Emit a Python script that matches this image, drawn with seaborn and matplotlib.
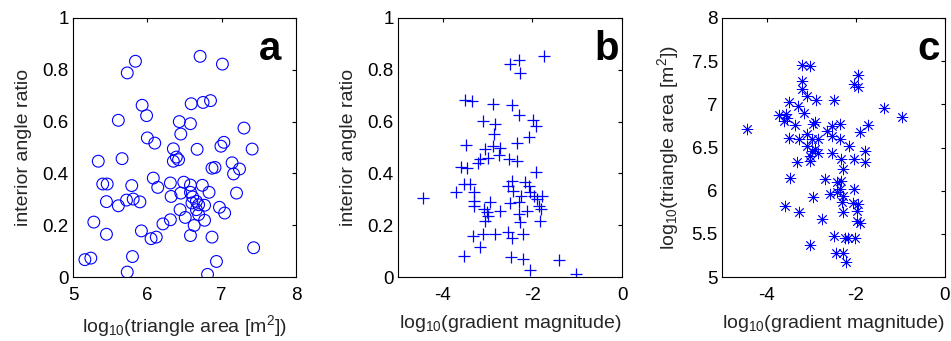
import matplotlib
matplotlib.use("Agg")
import matplotlib.pyplot as plt
import seaborn as sns
import pandas as pd

# ---------------- data ----------------
# panel a: triangle area (log10) vs interior angle ratio
a_area = [6.71, 7.01, 5.84, 5.73, 5.93, 5.99, 5.61, 6.59, 6.75, 6.85, 6.43, 6.58, 6.45, 7.30,
          6.00, 6.10, 6.35, 6.67, 7.03, 6.99, 7.41, 5.66, 5.34, 6.39, 6.35, 6.42, 6.08, 6.87,
          6.91, 7.14, 7.16, 7.24, 5.40, 5.46, 5.79, 6.14, 6.31, 6.49, 6.58, 6.74, 6.32, 6.45,
          6.58, 6.61, 6.83, 7.20, 5.45, 5.61, 5.72, 5.81, 5.90, 6.60, 6.66, 6.69, 6.77, 6.44,
          6.66, 6.97, 7.04, 6.69, 6.51, 5.28, 6.21, 6.31, 6.77, 6.63, 5.45, 5.92, 6.05, 6.12,
          6.58, 6.87, 5.16, 5.24, 5.80, 7.43, 6.93, 5.73, 6.81]
a_ratio = [0.852, 0.822, 0.833, 0.788, 0.663, 0.623, 0.605, 0.669, 0.674, 0.681, 0.600, 0.592,
           0.552, 0.575, 0.537, 0.517, 0.495, 0.493, 0.520, 0.505, 0.494, 0.457, 0.447, 0.463,
           0.447, 0.453, 0.382, 0.420, 0.423, 0.441, 0.398, 0.417, 0.359, 0.359, 0.353, 0.346,
           0.363, 0.366, 0.355, 0.354, 0.311, 0.324, 0.327, 0.309, 0.327, 0.324, 0.291, 0.275,
           0.297, 0.301, 0.290, 0.286, 0.292, 0.279, 0.277, 0.260, 0.260, 0.269, 0.247, 0.241,
           0.230, 0.212, 0.205, 0.221, 0.219, 0.199, 0.165, 0.178, 0.148, 0.154, 0.160, 0.154,
           0.067, 0.073, 0.079, 0.113, 0.060, 0.019, 0.010]

# panel b: gradient magnitude (log10) vs interior angle ratio
b_grad = [-1.73, -2.49, -2.29, -2.27, -3.51, -3.35, -2.87, -2.46, -2.31, -3.11, -1.99, -2.83,
          -1.91, -2.85, -2.07, -2.34, -3.49, -3.05, -2.87, -2.72, -3.16, -2.99, -2.74, -2.53,
          -2.34, -3.59, -3.46, -3.22, -1.92, -4.44, -3.71, -3.53, -3.39, -3.30, -3.31, -3.31,
          -3.09, -3.01, -2.94, -2.99, -3.05, -3.10, -3.33, -3.18, -3.52, -2.83, -2.54, -2.46,
          -2.21, -2.27, -2.29, -2.31, -2.51, -2.46, -2.54, -2.44, -2.26, -2.16, -2.07, -2.05,
          -1.97, -1.90, -1.79, -1.86, -1.80, -1.82, -2.12, -2.47, -2.20, -2.05, -1.40, -1.02,
          -2.72]
b_ratio = [0.853, 0.823, 0.836, 0.788, 0.682, 0.679, 0.669, 0.663, 0.624, 0.603, 0.606, 0.590,
           0.583, 0.551, 0.541, 0.519, 0.509, 0.496, 0.506, 0.500, 0.455, 0.458, 0.471, 0.455,
           0.449, 0.423, 0.419, 0.442, 0.404, 0.304, 0.329, 0.359, 0.359, 0.327, 0.295, 0.276,
           0.263, 0.250, 0.288, 0.237, 0.218, 0.167, 0.158, 0.115, 0.083, 0.167, 0.173, 0.150,
           0.167, 0.214, 0.244, 0.288, 0.286, 0.372, 0.353, 0.333, 0.314, 0.365, 0.353, 0.327,
           0.314, 0.301, 0.314, 0.276, 0.263, 0.218, 0.256, 0.079, 0.071, 0.026, 0.064, 0.013,
           0.254]

# panel c: gradient magnitude (log10) vs triangle area (log10)
c_grad = [-3.21, -3.02, -1.96, -2.05, -1.94, -3.21, -3.21, -3.10, -2.90, -2.49, -3.49, -3.30,
          -3.17, -1.37, -0.97, -3.73, -3.56, -3.54, -3.60, -3.37, -4.43, -2.96, -2.91, -2.54,
          -2.35, -1.72, -1.90, -3.49, -3.28, -3.10, -2.99, -2.84, -2.65, -2.54, -2.35, -2.16,
          -3.10, -2.99, -2.91, -3.02, -2.84, -3.02, -2.54, -2.34, -2.04, -1.79, -1.79, -3.31,
          -2.28, -3.47, -2.70, -2.43, -2.34, -2.35, -2.43, -2.57, -2.28, -2.05, -2.96, -2.31,
          -2.07, -1.94, -3.58, -3.28, -2.28, -1.98, -2.76, -1.98, -1.90, -3.02, -2.50, -2.25,
          -2.18, -2.01, -2.45, -2.29, -2.22]
c_area = [7.454, 7.442, 7.335, 7.238, 7.204, 7.269, 7.181, 7.096, 7.046, 7.046, 7.027, 6.981,
          6.904, 6.962, 6.854, 6.873, 6.892, 6.846, 6.808, 6.758, 6.719, 6.769, 6.796, 6.750,
          6.769, 6.758, 6.681, 6.615, 6.604, 6.654, 6.596, 6.596, 6.692, 6.635, 6.596, 6.519,
          6.519, 6.462, 6.481, 6.404, 6.435, 6.346, 6.431, 6.365, 6.365, 6.462, 6.327, 6.327,
          6.250, 6.146, 6.135, 6.096, 6.115, 6.019, 5.981, 5.962, 5.942, 6.019, 5.923, 5.865,
          5.858, 5.846, 5.827, 5.758, 5.758, 5.769, 5.673, 5.654, 5.627, 5.365, 5.473, 5.450,
          5.450, 5.450, 5.281, 5.281, 5.173]

panel_letters = ["a", "b", "c"]
x_labels = [r"log$_{10}$(triangle area [m$^2$])",
            r"log$_{10}$(gradient magnitude)",
            r"log$_{10}$(gradient magnitude)"]
y_labels = ["interior angle ratio",
            "interior angle ratio",
            r"log$_{10}$(triangle area [m$^2$])"]

# ---------------- style ----------------
sns.set_style("white")
plt.rcParams["font.family"] = ["Liberation Sans", "DejaVu Sans"]
plt.rcParams["mathtext.default"] = "regular"
plt.rcParams["font.size"] = 13

BLUE = "#0000ff"
fig = plt.figure(figsize=(9.51, 3.41), dpi=100)
W, H = 951, 341
boxes = [(73, 296), (398, 622), (722, 945)]
top, bottom = 18, 277
axes = []
for (l, r) in boxes:
    axes.append(fig.add_axes([l / W, (H - bottom) / H, (r - l) / W, (bottom - top) / H]))

ax_a, ax_b, ax_c = axes

df_a = pd.DataFrame({"area": a_area, "ratio": a_ratio})
df_b = pd.DataFrame({"grad": b_grad, "ratio": b_ratio})
df_c = pd.DataFrame({"grad": c_grad, "area": c_area})

sns.scatterplot(data=df_a, x="area", y="ratio", ax=ax_a, marker="o", s=72,
                facecolors="none", edgecolor=BLUE, linewidth=0.8)
sns.scatterplot(data=df_b, x="grad", y="ratio", ax=ax_b, marker="+", s=75,
                color=BLUE, linewidth=0.9)
sns.scatterplot(data=df_c, x="grad", y="area", ax=ax_c, marker=(8, 2, 0), s=60,
                color=BLUE, linewidth=0.6)

ax_a.set_xlim(5, 8); ax_a.set_ylim(0, 1)
ax_a.set_xticks([5, 6, 7, 8]); ax_a.set_yticks([0, 0.2, 0.4, 0.6, 0.8, 1])
ax_a.set_yticklabels(["0", "0.2", "0.4", "0.6", "0.8", "1"])
ax_b.set_xlim(-5, 0); ax_b.set_ylim(0, 1)
ax_b.set_xticks([-4, -2, 0]); ax_b.set_yticks([0, 0.2, 0.4, 0.6, 0.8, 1])
ax_b.set_yticklabels(["0", "0.2", "0.4", "0.6", "0.8", "1"])
ax_c.set_xlim(-5, 0); ax_c.set_ylim(5, 8)
ax_c.set_xticks([-4, -2, 0]); ax_c.set_yticks([5, 5.5, 6, 6.5, 7, 7.5, 8])
ax_c.set_yticklabels(["5", "5.5", "6", "6.5", "7", "7.5", "8"])
for ax in (ax_b, ax_c):
    ax.set_xticklabels(["-4", "-2", "0"])

letter_x = [0.834, 0.875, 0.874]
for ax, letter, xl, yl, lx in zip(axes, panel_letters, x_labels, y_labels, letter_x):
    ax.set_xlabel(xl, fontsize=14, labelpad=7)
    ax.set_ylabel(yl, fontsize=14, labelpad=7.5)
    ax.tick_params(direction="in", length=3, width=0.8, top=True, right=True,
                   labelsize=13.5, colors="black")
    ax.tick_params(axis="x", pad=7)
    ax.tick_params(axis="y", pad=3)
    for sp in ax.spines.values():
        sp.set_visible(True)
        sp.set_color("black")
        sp.set_linewidth(0.8)
    ax.text(lx, 0.838, letter, transform=ax.transAxes, ha="left", va="baseline",
            fontsize=29, fontweight="bold", color="black")

fig.savefig("out.png", dpi=100)
